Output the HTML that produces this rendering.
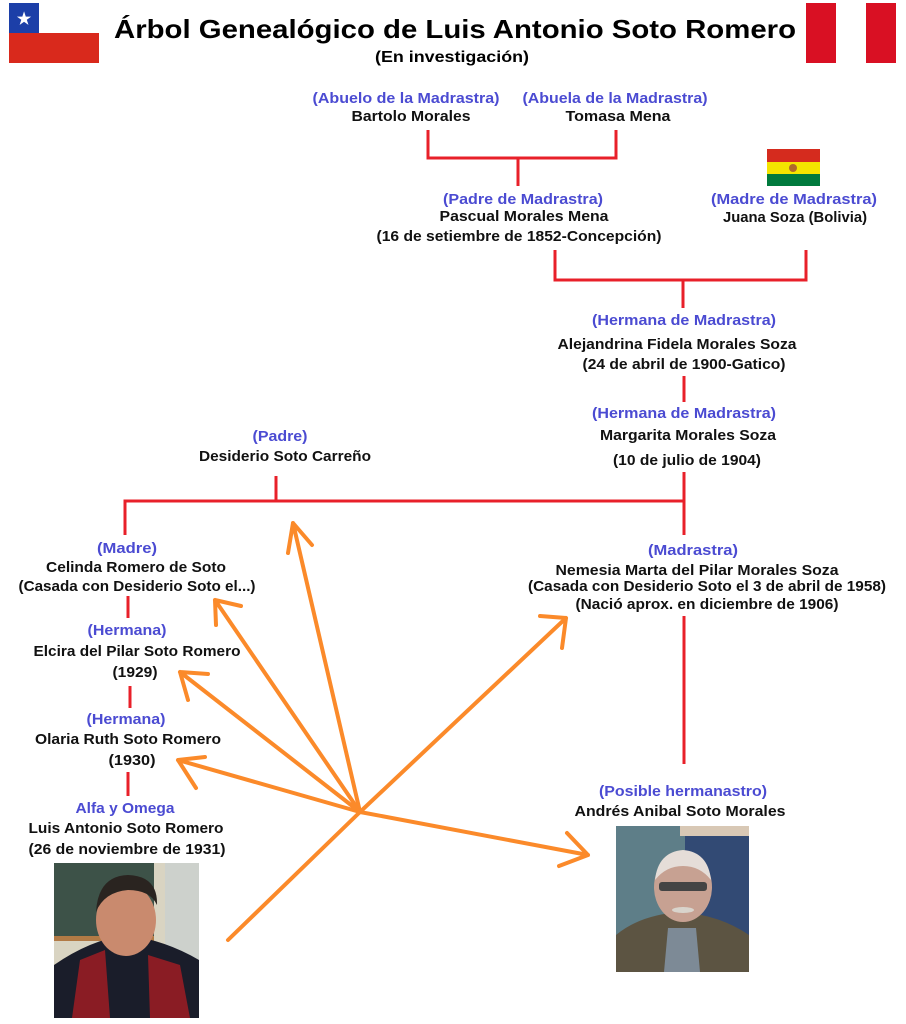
<!DOCTYPE html>
<html><head><meta charset="utf-8"><style>
html,body{margin:0;padding:0;background:#fff;}
svg{display:block;}
text{font-family:"Liberation Sans",sans-serif;font-weight:bold;text-anchor:middle;}
.l{fill:#4b4bd2;font-size:15px;}
.n{fill:#111;font-size:15px;}
</style></head><body>
<svg width="906" height="1024" viewBox="0 0 906 1024" xmlns="http://www.w3.org/2000/svg">
<rect width="906" height="1024" fill="#fff"/>
<!-- Chile flag -->
<rect x="9" y="3" width="90" height="30" fill="#fff"/>
<rect x="9" y="3" width="30" height="30" fill="#1c3fa8"/>
<rect x="9" y="33" width="90" height="30" fill="#d9291c"/>
<text x="24" y="24" style="fill:#fff;font-size:16px">★</text>
<!-- Peru flag -->
<rect x="806" y="3" width="30" height="60" fill="#d91023"/>
<rect x="866" y="3" width="30" height="60" fill="#d91023"/>
<!-- Title -->
<text x="455" y="38" style="font-size:26px;fill:#000" textLength="682" lengthAdjust="spacingAndGlyphs">Árbol Genealógico de Luis Antonio Soto Romero</text>
<text x="452" y="62" style="font-size:16px;fill:#000" textLength="154" lengthAdjust="spacingAndGlyphs">(En investigación)</text>
<!-- Bolivia flag -->
<rect x="767" y="149" width="53" height="13" fill="#d52b1e"/>
<rect x="767" y="162" width="53" height="12" fill="#f4e400"/>
<rect x="767" y="174" width="53" height="12" fill="#007a3d"/>
<circle cx="793" cy="168" r="4" fill="#b06a2a"/>
<!-- red lines -->
<g stroke="#e8202a" stroke-width="3" fill="none">
<path d="M428 130V158H616V130M518 158V186"/>
<path d="M555 250V280H806V250M683 280V308"/>
<path d="M684 376V402"/>
<path d="M684 472V535M125 535V501H684M276 476V501"/>
<path d="M128 596V618M130 686V708M128 772V796"/>
<path d="M684 616V764"/>
</g>
<!-- texts -->
<text class="l" x="406" y="103" textLength="187" lengthAdjust="spacingAndGlyphs">(Abuelo de la Madrastra)</text>
<text class="n" x="411" y="121" textLength="119" lengthAdjust="spacingAndGlyphs">Bartolo Morales</text>
<text class="l" x="615" y="103" textLength="185" lengthAdjust="spacingAndGlyphs">(Abuela de la Madrastra)</text>
<text class="n" x="618" y="121" textLength="105" lengthAdjust="spacingAndGlyphs">Tomasa Mena</text>
<text class="l" x="523" y="204" textLength="160" lengthAdjust="spacingAndGlyphs">(Padre de Madrastra)</text>
<text class="n" x="524" y="221" textLength="169" lengthAdjust="spacingAndGlyphs">Pascual Morales Mena</text>
<text class="n" x="519" y="241" textLength="285" lengthAdjust="spacingAndGlyphs">(16 de setiembre de 1852-Concepción)</text>
<text class="l" x="794" y="204" textLength="166" lengthAdjust="spacingAndGlyphs">(Madre de Madrastra)</text>
<text class="n" x="795" y="222" textLength="144" lengthAdjust="spacingAndGlyphs">Juana Soza (Bolivia)</text>
<text class="l" x="684" y="325" textLength="184" lengthAdjust="spacingAndGlyphs">(Hermana de Madrastra)</text>
<text class="n" x="677" y="349" textLength="239" lengthAdjust="spacingAndGlyphs">Alejandrina Fidela Morales Soza</text>
<text class="n" x="684" y="369" textLength="203" lengthAdjust="spacingAndGlyphs">(24 de abril de 1900-Gatico)</text>
<text class="l" x="684" y="418" textLength="184" lengthAdjust="spacingAndGlyphs">(Hermana de Madrastra)</text>
<text class="n" x="688" y="440" textLength="176" lengthAdjust="spacingAndGlyphs">Margarita Morales Soza</text>
<text class="n" x="687" y="465" textLength="148" lengthAdjust="spacingAndGlyphs">(10 de julio de 1904)</text>
<text class="l" x="280" y="441" textLength="55" lengthAdjust="spacingAndGlyphs">(Padre)</text>
<text class="n" x="285" y="461" textLength="172" lengthAdjust="spacingAndGlyphs">Desiderio Soto Carreño</text>
<text class="l" x="127" y="553" textLength="60" lengthAdjust="spacingAndGlyphs">(Madre)</text>
<text class="n" x="136" y="572" textLength="180" lengthAdjust="spacingAndGlyphs">Celinda Romero de Soto</text>
<text class="n" x="137" y="591" textLength="237" lengthAdjust="spacingAndGlyphs">(Casada con Desiderio Soto el...)</text>
<text class="l" x="127" y="635" textLength="79" lengthAdjust="spacingAndGlyphs">(Hermana)</text>
<text class="n" x="137" y="656" textLength="207" lengthAdjust="spacingAndGlyphs">Elcira del Pilar Soto Romero</text>
<text class="n" x="135" y="677" textLength="45" lengthAdjust="spacingAndGlyphs">(1929)</text>
<text class="l" x="126" y="724" textLength="79" lengthAdjust="spacingAndGlyphs">(Hermana)</text>
<text class="n" x="128" y="744" textLength="186" lengthAdjust="spacingAndGlyphs">Olaria Ruth Soto Romero</text>
<text class="n" x="132" y="765" textLength="47" lengthAdjust="spacingAndGlyphs">(1930)</text>
<text class="l" x="125" y="813" textLength="99" lengthAdjust="spacingAndGlyphs">Alfa y Omega</text>
<text class="n" x="126" y="833" textLength="195" lengthAdjust="spacingAndGlyphs">Luis Antonio Soto Romero</text>
<text class="n" x="127" y="854" textLength="197" lengthAdjust="spacingAndGlyphs">(26 de noviembre de 1931)</text>
<text class="l" x="693" y="555" textLength="90" lengthAdjust="spacingAndGlyphs">(Madrastra)</text>
<text class="n" x="697" y="575" textLength="283" lengthAdjust="spacingAndGlyphs">Nemesia Marta del Pilar Morales Soza</text>
<text class="n" x="707" y="591" textLength="358" lengthAdjust="spacingAndGlyphs">(Casada con Desiderio Soto el 3 de abril de 1958)</text>
<text class="n" x="707" y="609" textLength="263" lengthAdjust="spacingAndGlyphs">(Nació aprox. en diciembre de 1906)</text>
<text class="l" x="683" y="796" textLength="168" lengthAdjust="spacingAndGlyphs">(Posible hermanastro)</text>
<text class="n" x="680" y="816" textLength="211" lengthAdjust="spacingAndGlyphs">Andrés Anibal Soto Morales</text>
<!-- orange arrows -->
<g stroke="#fb8a2a" stroke-width="4" fill="none" stroke-linecap="round" stroke-linejoin="round">
<path d="M360 812L293 523M288 553L293 523L312 545"/>
<path d="M360 812L215 600M216 625L215 600L241 606"/>
<path d="M360 812L180 672M188 700L180 672L208 674"/>
<path d="M360 812L178 760M196 788L178 760L205 757"/>
<path d="M360 812L566 618M562 648L566 618L540 616"/>
<path d="M360 812L588 855M559 866L588 855L567 833"/>
<path d="M360 812L228 940"/>
</g>
<!-- Luis photo -->
<rect x="54" y="863" width="145" height="155" fill="#d9d4c2"/>
<rect x="54" y="863" width="100" height="75" fill="#3d5248"/>
<rect x="54" y="936" width="100" height="5" fill="#b27a45"/>
<rect x="165" y="863" width="34" height="120" fill="#cdd1cc"/>
<path d="M54 1018V965Q90 940 126 935Q165 940 199 960V1018Z" fill="#1a1d2a"/>
<path d="M72 1018L80 960L105 950L110 1018Z M150 1018L148 955L180 965L190 1018Z" fill="#8a1c24"/>
<ellipse cx="126" cy="920" rx="30" ry="36" fill="#c98a6e"/>
<path d="M96 912Q98 876 128 875Q158 876 157 905Q150 890 128 890Q104 892 96 912Z" fill="#2a2420"/>
<!-- Andrés photo -->
<rect x="616" y="826" width="133" height="146" fill="#5e7e88"/>
<rect x="680" y="826" width="69" height="10" fill="#d8c8b5"/>
<rect x="685" y="836" width="64" height="136" fill="#324a74"/>
<path d="M616 972V935Q640 915 680 912Q720 915 749 935V972Z" fill="#5c5442"/>
<path d="M664 972L668 928L696 928L700 972Z" fill="#7d8a96"/>
<ellipse cx="683" cy="887" rx="29" ry="35" fill="#c7a192"/>
<path d="M655 880Q658 852 683 850Q708 852 711 880Q700 866 683 866Q666 866 655 880Z" fill="#e5ddd8"/>
<rect x="659" y="882" width="48" height="9" rx="3" fill="#444"/>
<ellipse cx="683" cy="910" rx="11" ry="3" fill="#d9d4cc"/>
</svg>
</body></html>
